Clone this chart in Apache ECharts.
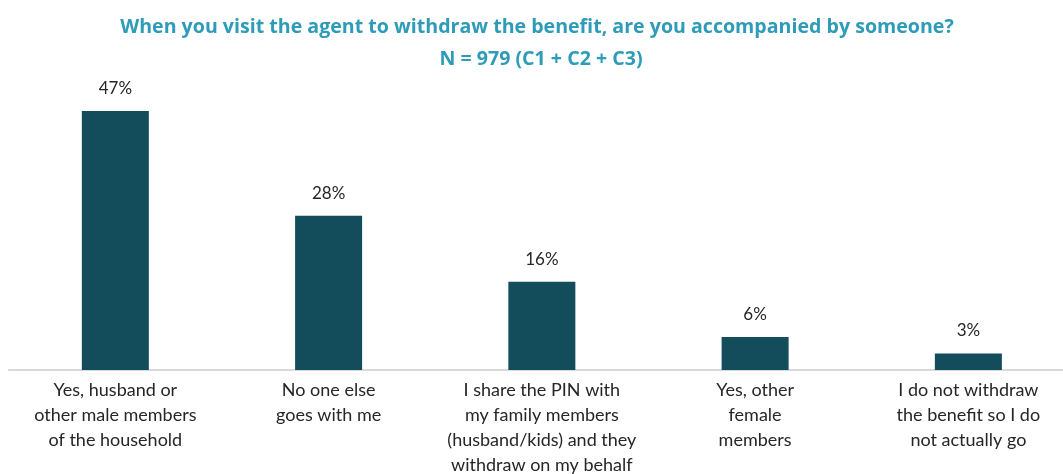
<!DOCTYPE html>
<html>
<head>
<meta charset="utf-8">
<script src="https://cdn.jsdelivr.net/npm/echarts@6/dist/echarts.min.js"></script>
<style>
  html, body { margin: 0; padding: 0; background: #fff; }
  #chart { width: 1063px; height: 474px; }
</style>
</head>
<body>
<div id="chart"></div>
<script>
// Who accompanies the respondent when withdrawing the benefit (share of respondents, %)
const categories = [
  'Yes, husband or\nother male members\nof the household',
  'No one else\ngoes with me',
  'I share the PIN with\nmy family members\n(husband/kids) and they\nwithdraw on my behalf',
  'Yes, other\nfemale\nmembers',
  'I do not withdraw\nthe benefit so I do\nnot actually go'
];
const shares = [47, 28, 16, 6, 3];

const titleLine1 = 'When you visit the agent to withdraw the benefit, are you accompanied by someone?';
const titleLine2 = 'N = 979 (C1 + C2 + C3)';

const titleStyle = {
  fontFamily: 'Open Sans',
  fontWeight: 'bold',
  fontSize: 19.6,
  lineHeight: 20,
  color: '#2E9BB8'
};

const chart = echarts.init(document.getElementById('chart'));
chart.setOption({
  animation: false,
  backgroundColor: '#ffffff',
  title: [
    { text: titleLine1, left: 537, textAlign: 'center', top: 17, padding: 0, textStyle: titleStyle },
    { text: titleLine2, left: 541, textAlign: 'center', top: 49, padding: 0, textStyle: titleStyle }
  ],
  grid: {
    left: 8.7, right: -12, top: 94.5, bottom: 104,
    containLabel: false,
    outerBoundsMode: 'none'
  },
  xAxis: {
    type: 'category',
    data: categories,
    axisTick: { show: false },
    axisLine: { lineStyle: { color: '#d9d9d9', width: 2 } },
    axisLabel: {
      interval: 0,
      margin: 8,
      fontFamily: 'Lato',
      fontSize: 18,
      lineHeight: 25,
      color: '#262626'
    }
  },
  yAxis: {
    type: 'value',
    min: 0,
    max: 50,
    show: false,
    splitLine: { show: false }
  },
  series: [{
    type: 'bar',
    data: shares,
    barWidth: 67,
    itemStyle: { color: '#134D5C' },
    label: {
      show: true,
      position: 'top',
      distance: 14,
      formatter: '{c}%',
      fontFamily: 'Lato',
      fontSize: 17,
      color: '#262626'
    }
  }]
});
</script>
</body>
</html>
